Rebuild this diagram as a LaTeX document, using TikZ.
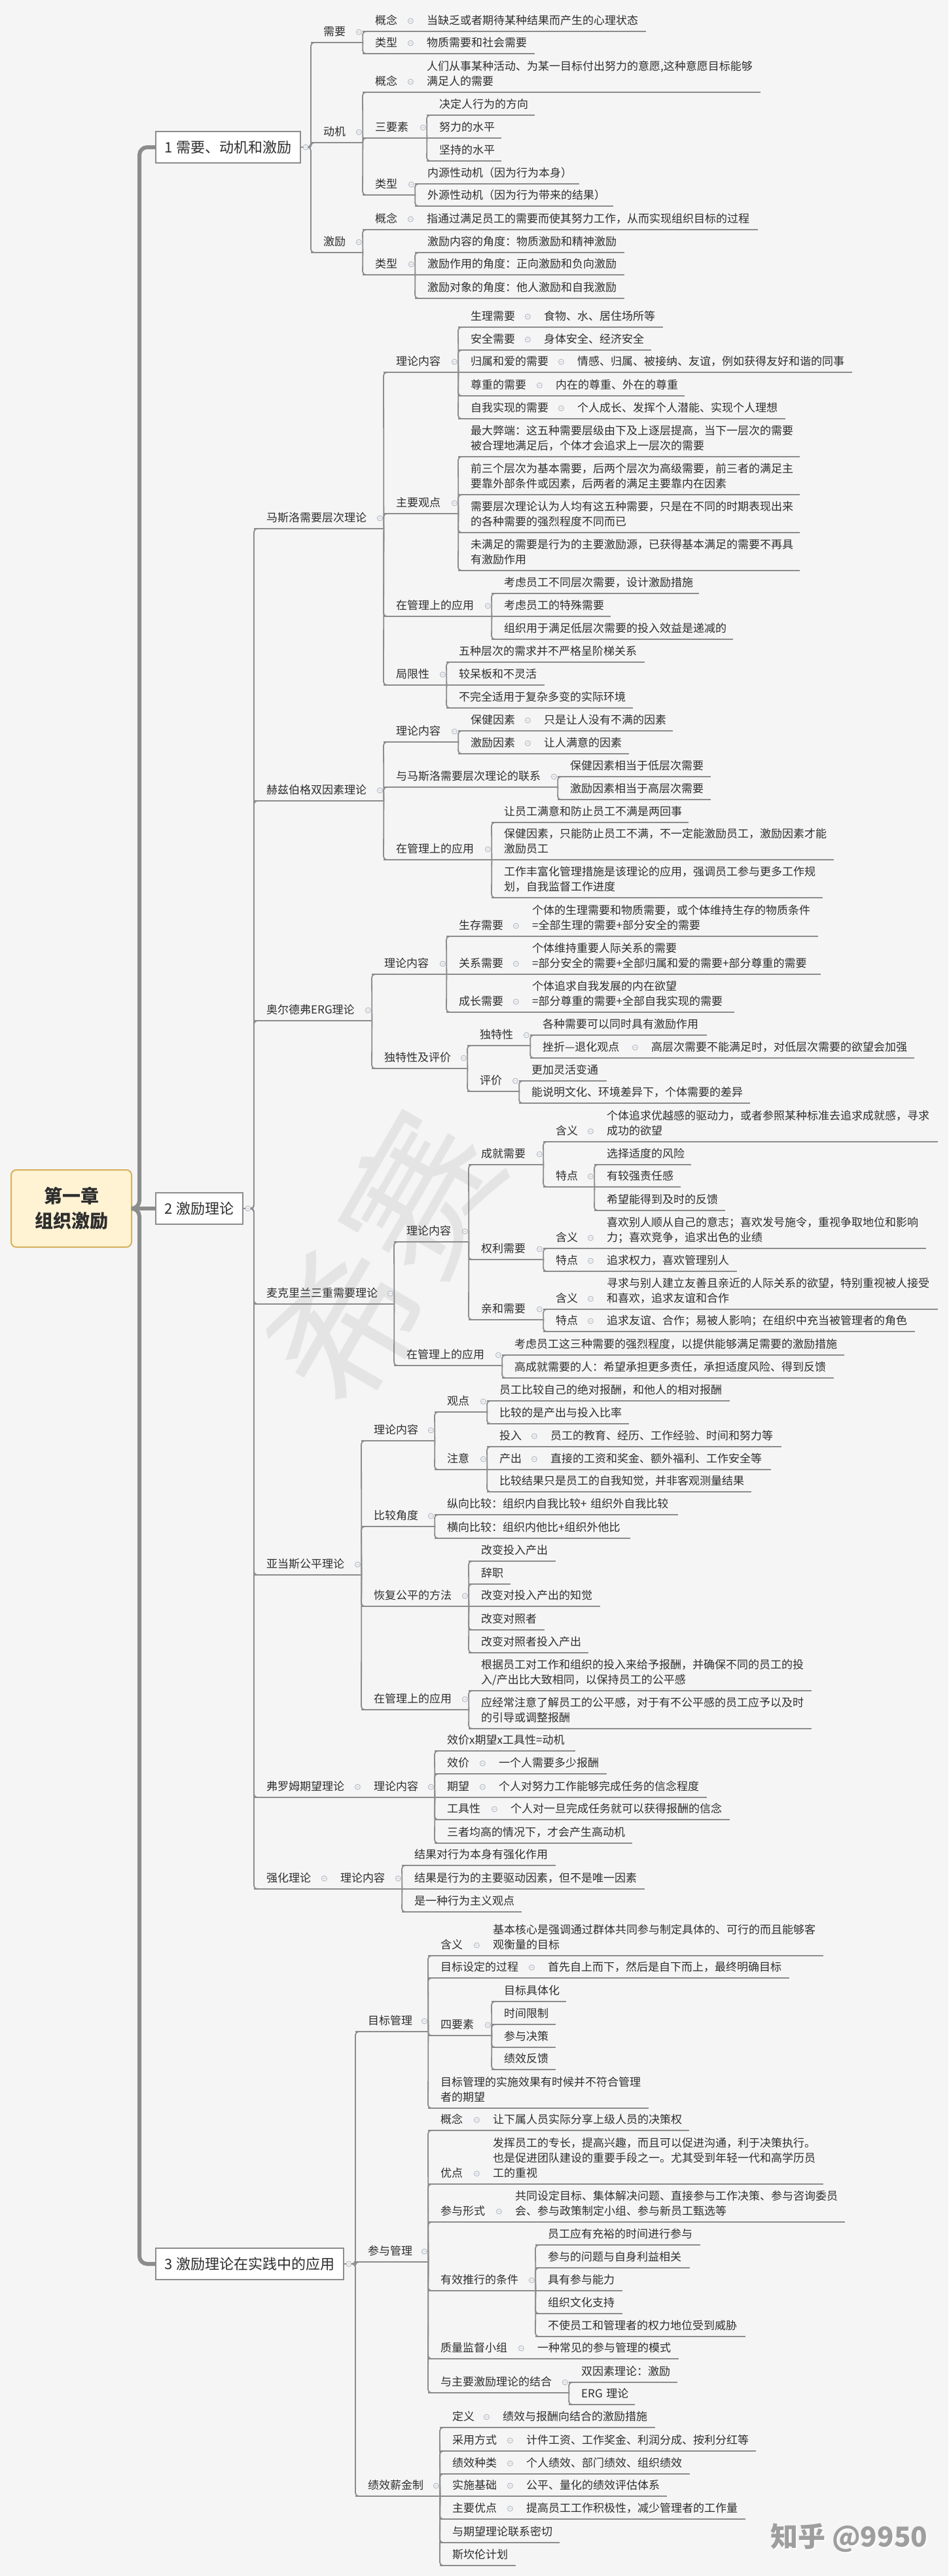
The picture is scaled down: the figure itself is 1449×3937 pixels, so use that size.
\documentclass[tikz,border=0pt]{standalone}
\usepackage{fontspec}
\setmainfont{Noto Sans CJK SC}

\definecolor{bg}{HTML}{F5F5F5}
\definecolor{lc}{HTML}{8C8C8C}
\definecolor{txt}{HTML}{2E2E2E}
\definecolor{rootfill}{HTML}{FFF3D4}
\definecolor{rootline}{HTML}{D6B05C}
\definecolor{foldc}{HTML}{A9B2C0}
\definecolor{wmark}{HTML}{E4E4E4}

\newcommand\tpfont{\fontsize{17}{23}\selectfont}
\newcommand\ustrut{\rule[-3.5pt]{0pt}{12pt}}

% one topic: name, left end of underline, right end, underline y, text
\newcommand\mtopic[5]{%
  \pgfmathsetmacro\mtwidth{#3-#2-38}%
  \node[tp, text width=\mtwidth pt] (#1) at (#2,#4) {#5};}
% links from a topic to its children on other lines
\newcommand\kids[2]{%
  \foreach \ch in {#2} \draw[link] (#1.south east) -- (\ch.south west) -- (\ch.south);}

\tikzset{
  uline/.style={draw=lc, line width=1.8pt},
  link/.style={draw=lc, line width=1.8pt, rounded corners=5pt},
  trunk/.style={draw=lc, line width=6pt, rounded corners=12pt},
  tp/.style={anchor=south west, inner xsep=19pt, inner ysep=7pt, align=left,
    font=\tpfont, text=txt, execute at end node=\ustrut,
    append after command={(\tikzlastnode.south west) edge[uline] (\tikzlastnode.south east)}},
  sect/.style={draw=lc, fill=white, line width=1.8pt, anchor=west, inner xsep=14pt,
    minimum height=48pt, font=\fontsize{22}{26}\selectfont, text=txt},
  rootbox/.style={draw=rootline, fill=rootfill, line width=2pt, rounded corners=8pt,
    minimum width=184pt, minimum height=118pt, align=center, text=txt,
    font=\fontsize{28}{38}\selectfont\bfseries},
  fold/.style={draw=foldc, fill=bg, line width=0.8pt}
}

\begin{document}
\begin{tikzpicture}[x=1pt, y=-1pt]
  \useasboundingbox (0,0) rectangle (1449,3937);
  \fill[bg] (0,0) rectangle (1449,3937);

  % ---- faint watermark ----
  \node[text=wmark, rotate=60, font=\fontsize{230}{230}\selectfont] (wm) at (585,1925) {希赛};

  % ---- root and the three sections ----
  \node[rootbox] (root) at (109,1847) {第一章\\组织激励};
  \coordinate (rootbus) at (213,1847);
  \node[sect] (b1) at (237,225) {1 需要、动机和激励};
  \node[sect] (b2) at (237,1847) {2 激励理论};
  \node[sect] (b3) at (237,3460) {3 激励理论在实践中的应用};
  \draw[trunk] (root.east) -- (rootbus) |- (b1.west);
  \draw[trunk] (root.east) -- (b2.west);
  \draw[trunk] (root.east) -- (rootbus) |- (b3.west);

  % ---- 1 needs, motives ----
  \mtopic{xuyao}{475}{554}{65}{需要}
  \mtopic{xuyaoA}{554}{633}{48}{概念}
  \mtopic{xuyaoAt}{633}{987}{48}{当缺乏或者期待某种结果而产生的心理状态}
  \mtopic{xuyaoB}{554}{633}{82}{类型}
  \mtopic{xuyaoBt}{633}{817}{82}{物质需要和社会需要}
  \mtopic{dongji}{475}{554}{218}{动机}
  \mtopic{dongjiA}{554}{633}{141}{概念}
  \mtopic{dongjiAt}{633}{1162}{141}{人们从事某种活动、为某一目标付出努力的意愿,这种意愿目标能够\\满足人的需要}
  \mtopic{dongjiB}{554}{652}{211}{三要素}
  \mtopic{dongjiB1}{652}{817}{176}{决定人行为的方向}
  \mtopic{dongjiB2}{652}{766}{211}{努力的水平}
  \mtopic{dongjiB3}{652}{766}{246}{坚持的水平}
  \mtopic{dongjiC}{554}{634}{298}{类型}
  \mtopic{dongjiC1}{634}{885}{281}{内源性动机（因为行为本身）}
  \mtopic{dongjiC2}{634}{937}{315}{外源性动机（因为行为带来的结果）}
  \mtopic{jili}{475}{554}{386}{激励}
  \mtopic{jiliA}{554}{633}{351}{概念}
  \mtopic{jiliAt}{633}{1158}{351}{指通过满足员工的需要而使其努力工作，从而实现组织目标的过程}
  \mtopic{jiliB}{554}{634}{420}{类型}
  \mtopic{jiliB1}{634}{954}{386}{激励内容的角度：物质激励和精神激励}
  \mtopic{jiliB2}{634}{954}{420}{激励作用的角度：正向激励和负向激励}
  \mtopic{jiliB3}{634}{954}{456}{激励对象的角度：他人激励和自我激励}

  \foreach \ch in {xuyao,dongji,jili} \draw[link] (b1.east) -| (\ch.south west) -- (\ch.south);
  \kids{xuyao}{xuyaoA,xuyaoB}
  \kids{dongji}{dongjiA,dongjiB,dongjiC}
  \kids{dongjiB}{dongjiB1,dongjiB3}
  \kids{dongjiC}{dongjiC1,dongjiC2}
  \kids{jili}{jiliA,jiliB}
  \kids{jiliB}{jiliB1,jiliB3}

  % ---- 2 theories: Maslow ----
  \mtopic{maslow}{388}{586}{808}{马斯洛需要层次理论}
  \mtopic{maslowA}{586}{700}{569}{理论内容}
  \mtopic{maslowA1}{700}{812}{500}{生理需要}
  \mtopic{maslowA1t}{812}{1013}{500}{食物、水、居住场所等}
  \mtopic{maslowA2}{700}{812}{535}{安全需要}
  \mtopic{maslowA2t}{812}{995}{535}{身体安全、经济安全}
  \mtopic{maslowA3}{700}{863}{569}{归属和爱的需要}
  \mtopic{maslowA3t}{863}{1302}{569}{情感、归属、被接纳、友谊，例如获得友好和谐的同事}
  \mtopic{maslowA4}{700}{830}{605}{尊重的需要}
  \mtopic{maslowA4t}{830}{1046}{605}{内在的尊重、外在的尊重}
  \mtopic{maslowA5}{700}{863}{640}{自我实现的需要}
  \mtopic{maslowA5t}{863}{1200}{640}{个人成长、发挥个人潜能、实现个人理想}
  \mtopic{maslowB}{586}{700}{785}{主要观点}
  \mtopic{maslowB1}{700}{1222}{698}{最大弊端：这五种需要层级由下及上逐层提高，当下一层次的需要\\被合理地满足后，个体才会追求上一层次的需要}
  \mtopic{maslowB2}{700}{1222}{756}{前三个层次为基本需要，后两个层次为高级需要，前三者的满足主\\要靠外部条件或因素，后两者的满足主要靠内在因素}
  \mtopic{maslowB3}{700}{1222}{814}{需要层次理论认为人均有这五种需要，只是在不同的时期表现出来\\的各种需要的强烈程度不同而已}
  \mtopic{maslowB4}{700}{1222}{872}{未满足的需要是行为的主要激励源，已获得基本满足的需要不再具\\有激励作用}
  \mtopic{maslowC}{586}{751}{942}{在管理上的应用}
  \mtopic{maslowC1}{751}{1068}{907}{考虑员工不同层次需要，设计激励措施}
  \mtopic{maslowC2}{751}{933}{942}{考虑员工的特殊需要}
  \mtopic{maslowC3}{751}{1120}{977}{组织用于满足低层次需要的投入效益是递减的}
  \mtopic{maslowD}{586}{682}{1047}{局限性}
  \mtopic{maslowD1}{682}{985}{1012}{五种层次的需求并不严格呈阶梯关系}
  \mtopic{maslowD2}{682}{832}{1047}{较呆板和不灵活}
  \mtopic{maslowD3}{682}{967}{1082}{不完全适用于复杂多变的实际环境}

  % ---- Herzberg ----
  \mtopic{herz}{388}{586}{1224}{赫兹伯格双因素理论}
  \mtopic{herzA}{586}{700}{1134}{理论内容}
  \mtopic{herzA1}{700}{812}{1117}{保健因素}
  \mtopic{herzA1t}{812}{1028}{1117}{只是让人没有不满的因素}
  \mtopic{herzA2}{700}{812}{1152}{激励因素}
  \mtopic{herzA2t}{812}{961}{1152}{让人满意的因素}
  \mtopic{herzB}{586}{852}{1203}{与马斯洛需要层次理论的联系}
  \mtopic{herzB1}{852}{1086}{1187}{保健因素相当于低层次需要}
  \mtopic{herzB2}{852}{1086}{1222}{激励因素相当于高层次需要}
  \mtopic{herzC}{586}{751}{1314}{在管理上的应用}
  \mtopic{herzC1}{751}{1052}{1257}{让员工满意和防止员工不满是两回事}
  \mtopic{herzC2}{751}{1274}{1314}{保健因素，只能防止员工不满，不一定能激励员工，激励因素才能\\激励员工}
  \mtopic{herzC3}{751}{1257}{1372}{工作丰富化管理措施是该理论的应用，强调员工参与更多工作规\\划，自我监督工作进度}

  % ---- Alderfer ----
  \mtopic{erg}{388}{568}{1560}{奥尔德弗ERG理论}
  \mtopic{ergA}{568}{682}{1489}{理论内容}
  \mtopic{ergA1}{682}{794}{1431}{生存需要}
  \mtopic{ergA1t}{794}{1250}{1431}{个体的生理需要和物质需要，或个体维持生存的物质条件\\=全部生理的需要+部分安全的需要}
  \mtopic{ergA2}{682}{794}{1489}{关系需要}
  \mtopic{ergA2t}{794}{1254}{1489}{个体维持重要人际关系的需要\\=部分安全的需要+全部归属和爱的需要+部分尊重的需要}
  \mtopic{ergA3}{682}{794}{1547}{成长需要}
  \mtopic{ergA3t}{794}{1122}{1547}{个体追求自我发展的内在欲望\\=部分尊重的需要+全部自我实现的需要}
  \mtopic{ergB}{568}{714}{1633}{独特性及评价}
  \mtopic{ergB1}{714}{810}{1598}{独特性}
  \mtopic{ergB1a}{810}{1080}{1582}{各种需要可以同时具有激励作用}
  \mtopic{ergB1b}{810}{976}{1617}{挫折—退化观点}
  \mtopic{ergB1bt}{976}{1397}{1617}{高层次需要不能满足时，对低层次需要的欲望会加强}
  \mtopic{ergB2}{714}{793}{1668}{评价}
  \mtopic{ergB2a}{793}{927}{1652}{更加灵活变通}
  \mtopic{ergB2b}{793}{1146}{1686}{能说明文化、环境差异下，个体需要的差异}

  % ---- McClelland ----
  \mtopic{mcc}{388}{602}{1993}{麦克里兰三重需要理论}
  \mtopic{mccA}{602}{716}{1898}{理论内容}
  \mtopic{mccA1}{716}{830}{1780}{成就需要}
  \mtopic{mccA1a}{830}{908}{1745}{含义}
  \mtopic{mccA1at}{908}{1433}{1745}{个体追求优越感的驱动力，或者参照某种标准去追求成就感，寻求\\成功的欲望}
  \mtopic{mccA1b}{830}{908}{1814}{特点}
  \mtopic{mccA1b1}{908}{1056}{1780}{选择适度的风险}
  \mtopic{mccA1b2}{908}{1040}{1814}{有较强责任感}
  \mtopic{mccA1b3}{908}{1108}{1850}{希望能得到及时的反馈}
  \mtopic{mccA2}{716}{830}{1925}{权利需要}
  \mtopic{mccA2a}{830}{908}{1908}{含义}
  \mtopic{mccA2at}{908}{1415}{1908}{喜欢别人顺从自己的意志；喜欢发号施令，重视争取地位和影响\\力；喜欢竞争，追求出色的业绩}
  \mtopic{mccA2b}{830}{908}{1943}{特点}
  \mtopic{mccA2bt}{908}{1126}{1943}{追求权力，喜欢管理别人}
  \mtopic{mccA3}{716}{830}{2017}{亲和需要}
  \mtopic{mccA3a}{830}{908}{2001}{含义}
  \mtopic{mccA3at}{908}{1433}{2001}{寻求与别人建立友善且亲近的人际关系的欲望，特别重视被人接受\\和喜欢，追求友谊和合作}
  \mtopic{mccA3b}{830}{908}{2035}{特点}
  \mtopic{mccA3bt}{908}{1398}{2035}{追求友谊、合作；易被人影响；在组织中充当被管理者的角色}
  \mtopic{mccB}{602}{767}{2087}{在管理上的应用}
  \mtopic{mccB1}{767}{1290}{2071}{考虑员工这三种需要的强烈程度，以提供能够满足需要的激励措施}
  \mtopic{mccB2}{767}{1274}{2106}{高成就需要的人：希望承担更多责任，承担适度风险、得到反馈}

  % ---- Adams ----
  \mtopic{adams}{388}{552}{2407}{亚当斯公平理论}
  \mtopic{adamsA}{552}{664}{2202}{理论内容}
  \mtopic{adamsA1}{664}{744}{2158}{观点}
  \mtopic{adamsA1a}{744}{1115}{2141}{员工比较自己的绝对报酬，和他人的相对报酬}
  \mtopic{adamsA1b}{744}{961}{2176}{比较的是产出与投入比率}
  \mtopic{adamsA2}{664}{744}{2246}{注意}
  \mtopic{adamsA2a}{744}{822}{2211}{投入}
  \mtopic{adamsA2at}{822}{1194}{2211}{员工的教育、经历、工作经验、时间和努力等}
  \mtopic{adamsA2b}{744}{822}{2246}{产出}
  \mtopic{adamsA2bt}{822}{1178}{2246}{直接的工资和奖金、额外福利、工作安全等}
  \mtopic{adamsA2c}{744}{1148}{2280}{比较结果只是员工的自我知觉，并非客观测量结果}
  \mtopic{adamsB}{552}{664}{2333}{比较角度}
  \mtopic{adamsB1}{664}{1036}{2315}{纵向比较：组织内自我比较+~组织外自我比较}
  \mtopic{adamsB2}{664}{963}{2351}{横向比较：组织内他比+组织外他比}
  \mtopic{adamsC}{552}{716}{2455}{恢复公平的方法}
  \mtopic{adamsC1}{716}{849}{2386}{改变投入产出}
  \mtopic{adamsC2}{716}{780}{2421}{辞职}
  \mtopic{adamsC3}{716}{917}{2455}{改变对投入产出的知觉}
  \mtopic{adamsC4}{716}{832}{2491}{改变对照者}
  \mtopic{adamsC5}{716}{899}{2526}{改变对照者投入产出}
  \mtopic{adamsD}{552}{716}{2613}{在管理上的应用}
  \mtopic{adamsD1}{716}{1240}{2584}{根据员工对工作和组织的投入来给予报酬，并确保不同的员工的投\\入/产出比大致相同，以保持员工的公平感}
  \mtopic{adamsD2}{716}{1240}{2642}{应经常注意了解员工的公平感，对于有不公平感的员工应予以及时\\的引导或调整报酬}

  % ---- Vroom and reinforcement ----
  \mtopic{vroom}{388}{552}{2747}{弗罗姆期望理论}
  \mtopic{vroomA}{552}{664}{2747}{理论内容}
  \mtopic{vroomA1}{664}{879}{2676}{效价x期望x工具性=动机}
  \mtopic{vroomA2}{664}{743}{2711}{效价}
  \mtopic{vroomA2t}{743}{927}{2711}{一个人需要多少报酬}
  \mtopic{vroomA3}{664}{743}{2747}{期望}
  \mtopic{vroomA3t}{743}{1080}{2747}{个人对努力工作能够完成任务的信念程度}
  \mtopic{vroomA4}{664}{761}{2781}{工具性}
  \mtopic{vroomA4t}{761}{1115}{2781}{个人对一旦完成任务就可以获得报酬的信念}
  \mtopic{vroomA5}{664}{966}{2817}{三者均高的情况下，才会产生高动机}
  \mtopic{reinf}{388}{501}{2887}{强化理论}
  \mtopic{reinfA}{501}{614}{2887}{理论内容}
  \mtopic{reinfA1}{614}{849}{2851}{结果对行为本身有强化作用}
  \mtopic{reinfA2}{614}{985}{2887}{结果是行为的主要驱动因素，但不是唯一因素}
  \mtopic{reinfA3}{614}{797}{2922}{是一种行为主义观点}

  \foreach \ch in {maslow,herz,erg,mcc,adams,vroom,reinf} \draw[link] (b2.east) -| (\ch.south west) -- (\ch.south);
  \kids{maslow}{maslowA,maslowB,maslowC,maslowD}
  \kids{maslowA}{maslowA1,maslowA2,maslowA4,maslowA5}
  \kids{maslowB}{maslowB1,maslowB2,maslowB3,maslowB4}
  \kids{maslowC}{maslowC1,maslowC3}
  \kids{maslowD}{maslowD1,maslowD3}
  \kids{herz}{herzA,herzB,herzC}
  \kids{herzA}{herzA1,herzA2}
  \kids{herzB}{herzB1,herzB2}
  \kids{herzC}{herzC1,herzC3}
  \kids{erg}{ergA,ergB}
  \kids{ergA}{ergA1,ergA3}
  \kids{ergB}{ergB1,ergB2}
  \kids{ergB1}{ergB1a,ergB1b}
  \kids{ergB2}{ergB2a,ergB2b}
  \kids{mcc}{mccA,mccB}
  \kids{mccA}{mccA1,mccA2,mccA3}
  \kids{mccA1}{mccA1a,mccA1b}
  \kids{mccA1b}{mccA1b1,mccA1b3}
  \kids{mccA2}{mccA2a,mccA2b}
  \kids{mccA3}{mccA3a,mccA3b}
  \kids{mccB}{mccB1,mccB2}
  \kids{adams}{adamsA,adamsB,adamsC,adamsD}
  \kids{adamsA}{adamsA1,adamsA2}
  \kids{adamsA1}{adamsA1a,adamsA1b}
  \kids{adamsA2}{adamsA2a,adamsA2c}
  \kids{adamsB}{adamsB1,adamsB2}
  \kids{adamsC}{adamsC1,adamsC2,adamsC4,adamsC5}
  \kids{adamsD}{adamsD1,adamsD2}
  \kids{vroomA}{vroomA1,vroomA2,vroomA4,vroomA5}
  \kids{reinfA}{reinfA1,reinfA3}

  % ---- 3 practice ----
  \mtopic{mbo}{543}{654}{3105}{目标管理}
  \mtopic{mboA}{654}{734}{2989}{含义}
  \mtopic{mboAt}{734}{1258}{2989}{基本核心是强调通过群体共同参与制定具体的、可行的而且能够客\\观衡量的目标}
  \mtopic{mboB}{654}{818}{3023}{目标设定的过程}
  \mtopic{mboBt}{818}{1206}{3023}{首先自上而下，然后是自下而上，最终明确目标}
  \mtopic{mboC}{654}{751}{3111}{四要素}
  \mtopic{mboC1}{751}{865}{3059}{目标具体化}
  \mtopic{mboC2}{751}{849}{3094}{时间限制}
  \mtopic{mboC3}{751}{849}{3129}{参与决策}
  \mtopic{mboC4}{751}{849}{3163}{绩效反馈}
  \mtopic{mboD}{654}{991}{3222}{目标管理的实施效果有时候并不符合管理\\者的期望}

  \mtopic{pm}{543}{654}{3457}{参与管理}
  \mtopic{pmA}{654}{734}{3256}{概念}
  \mtopic{pmAt}{734}{1053}{3256}{让下属人员实际分享上级人员的决策权}
  \mtopic{pmB}{654}{734}{3338}{优点}
  \mtopic{pmBt}{734}{1258}{3338}{发挥员工的专长，提高兴趣，而且可以促进沟通，利于决策执行。\\也是促进团队建设的重要手段之一。尤其受到年轻一代和高学历员\\工的重视}
  \mtopic{pmC}{654}{768}{3396}{参与形式}
  \mtopic{pmCt}{768}{1291}{3396}{共同设定目标、集体解决问题、直接参与工作决策、参与咨询委员\\会、参与政策制定小组、参与新员工甄选等}
  \mtopic{pmD}{654}{818}{3501}{有效推行的条件}
  \mtopic{pmD1}{818}{1070}{3431}{员工应有充裕的时间进行参与}
  \mtopic{pmD2}{818}{1054}{3466}{参与的问题与自身利益相关}
  \mtopic{pmD3}{818}{951}{3501}{具有参与能力}
  \mtopic{pmD4}{818}{951}{3536}{组织文化支持}
  \mtopic{pmD5}{818}{1139}{3571}{不使员工和管理者的权力地位受到威胁}
  \mtopic{pmE}{654}{802}{3605}{质量监督小组}
  \mtopic{pmEt}{802}{1037}{3605}{一种常见的参与管理的模式}
  \mtopic{pmF}{654}{869}{3657}{与主要激励理论的结合}
  \mtopic{pmF1}{869}{1035}{3641}{双因素理论：激励}
  \mtopic{pmF2}{869}{970}{3675}{ERG~理论}

  \mtopic{pay}{543}{672}{3815}{绩效薪金制}
  \mtopic{payA}{672}{749}{3710}{定义}
  \mtopic{payAt}{749}{1001}{3710}{绩效与报酬向结合的激励措施}
  \mtopic{payB}{672}{785}{3746}{采用方式}
  \mtopic{payBt}{785}{1155}{3746}{计件工资、工作奖金、利润分成、按利分红等}
  \mtopic{payC}{672}{785}{3781}{绩效种类}
  \mtopic{payCt}{785}{1054}{3781}{个人绩效、部门绩效、组织绩效}
  \mtopic{payD}{672}{785}{3815}{实施基础}
  \mtopic{payDt}{785}{1019}{3815}{公平、量化的绩效评估体系}
  \mtopic{payE}{672}{785}{3850}{主要优点}
  \mtopic{payEt}{785}{1139}{3850}{提高员工工作积极性，减少管理者的工作量}
  \mtopic{payF}{672}{855}{3886}{与期望理论联系密切}
  \mtopic{payG}{672}{788}{3921}{斯坎伦计划}

  \foreach \ch in {mbo,pm,pay} \draw[link] (b3.east) -| (\ch.south west) -- (\ch.south);
  \kids{mbo}{mboA,mboB,mboC,mboD}
  \kids{mboC}{mboC1,mboC2,mboC3,mboC4}
  \kids{pm}{pmA,pmB,pmC,pmD,pmE,pmF}
  \kids{pmD}{pmD1,pmD2,pmD4,pmD5}
  \kids{pmF}{pmF1,pmF2}
  \kids{pay}{payA,payB,payC,payE,payF,payG}

  % ---- collapse marks ----
  \foreach \n in {b1,b2,b3}
    \draw[fold] ([xshift=7pt]\n.east) circle (4pt) +(-2pt,0pt) -- +(2pt,0pt);
  \foreach \n in {xuyao,xuyaoA,xuyaoB,dongji,dongjiA,dongjiB,dongjiC,jili,jiliA,jiliB,
      maslow,maslowA,maslowA1,maslowA2,maslowA3,maslowA4,maslowA5,maslowB,maslowC,maslowD,
      herz,herzA,herzA1,herzA2,herzB,herzC,
      erg,ergA,ergA1,ergA2,ergA3,ergB,ergB1,ergB1b,ergB2,
      mcc,mccA,mccA1,mccA1a,mccA1b,mccA2,mccA2a,mccA2b,mccA3,mccA3a,mccA3b,mccB,
      adams,adamsA,adamsA1,adamsA2,adamsA2a,adamsA2b,adamsB,adamsC,adamsD,
      vroom,vroomA,vroomA2,vroomA3,vroomA4,reinf,reinfA,
      mbo,mboA,mboB,mboC,pm,pmA,pmB,pmC,pmD,pmE,pmF,
      pay,payA,payB,payC,payD,payE}
    \draw[fold] ([shift={(-6pt,16pt)}]\n.south east) circle (4pt) +(-2pt,0pt) -- +(2pt,0pt);

  % ---- site mark ----
  \node[text=white, anchor=west, font=\fontsize{42}{42}\selectfont\bfseries] (zhs) at (1176,3881) {知乎 @9950};
  \node[text=black!38, anchor=west, font=\fontsize{42}{42}\selectfont\bfseries] (zh) at (1174,3879) {知乎 @9950};

\end{tikzpicture}
\end{document}
